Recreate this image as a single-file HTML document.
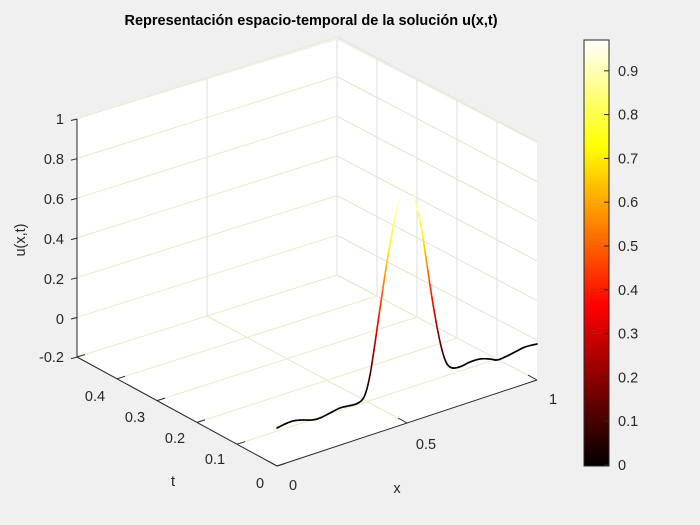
<!DOCTYPE html>
<html><head><meta charset="utf-8"><style>
body{margin:0;background:#f0f0f0;}
svg{display:block;font-family:"Liberation Sans",sans-serif;}
</style></head><body>
<svg id="s" width="700" height="525" viewBox="0 0 700 525">
<defs><linearGradient id="hot" x1="0" y1="1" x2="0" y2="0">
<stop offset="0" stop-color="#000"/><stop offset="0.375" stop-color="#f00"/><stop offset="0.75" stop-color="#ff0"/><stop offset="1" stop-color="#fff"/>
</linearGradient></defs>
<rect width="700" height="525" fill="#f0f0f0"/>
<polygon points="77,119 337,40 337,275 77,357" fill="#fff"/>
<polygon points="337,40 537,143 537,380 337,275" fill="#fff"/>
<polygon points="77,357 337,275 537,380 277,466" fill="#fff"/>
<g id="grid" stroke="#dedede" stroke-width="1" fill="none"></g>
<g id="axes" stroke="#262626" stroke-width="1" fill="none">
<line x1="77" y1="119" x2="77" y2="357"/>
<line x1="77" y1="357" x2="277" y2="466"/>
<line x1="277" y1="466" x2="537" y2="380"/>
</g>
<g id="curve" stroke-width="1.6" fill="none" stroke-linecap="round"></g>
<g font-size="14.5" fill="#262626">
<g text-anchor="end">
<text x="64" y="124">1</text><text x="64" y="164">0.8</text><text x="64" y="204">0.6</text><text x="64" y="244">0.4</text><text x="64" y="284">0.2</text><text x="64" y="324">0</text><text x="64" y="362">-0.2</text>
</g>
<text x="95" y="401" text-anchor="middle">0.4</text><text x="135" y="422" text-anchor="middle">0.3</text><text x="175" y="443" text-anchor="middle">0.2</text><text x="215" y="464" text-anchor="middle">0.1</text><text x="260" y="488" text-anchor="middle">0</text>
<text x="293" y="490" text-anchor="middle">0</text><text x="426" y="449" text-anchor="middle">0.5</text><text x="553" y="404" text-anchor="middle">1</text>
<text x="173" y="486" text-anchor="middle">t</text><text x="397" y="493" text-anchor="middle">x</text>
<text transform="translate(25,240) rotate(-90)" text-anchor="middle">u(x,t)</text>
</g>
<text x="311" y="25" text-anchor="middle" font-size="14.5" font-weight="bold" fill="#000">Representación espacio-temporal de la solución u(x,t)</text>
<rect x="584" y="40" width="25" height="426" fill="url(#hot)" stroke="#262626" stroke-width="1"/>
<g id="cb" font-size="14.5" fill="#262626"></g>
</svg>
<script>
var NS="http://www.w3.org/2000/svg";
function el(p,t,a){var e=document.createElementNS(NS,t);for(var k in a)e.setAttribute(k,a[k]);p.appendChild(e);return e;}
var g=document.getElementById('grid');
function L(a,b,c,d,col){el(g,'line',{x1:a,y1:b,x2:c,y2:d,stroke:col||'#e4e4d8'});}
for(var i=0;i<7;i++){var dz=i*39.7;
 L(77,357-dz,337,275-dz,'#ececc8');L(337,275-dz,537,380-dz,'#e4e4d0');}
L(207,316,207,79,'#dcdce6');L(207,316,407,423,'#e8e8c8');
for(var j=1;j<5;j++){var f=j/5;var ax=77+200*f,ay=357+109*f;var dx=337+200*f,dy=275+105*f;
 L(dx,dy,dx,dy-237,'#dcdce6');L(ax,ay,dx,dy,'#ececc8');}
L(337,40,337,275,'#dcdce6');
var ax=document.getElementById('axes');
for(var i=0;i<7;i++){var y=119+i*39.7;el(ax,'line',{x1:77,y1:y,x2:71,y2:y+1.5});}
for(var j=0;j<6;j++){var f=j/5;var x=77+200*f,y=357+109*f;el(ax,'line',{x1:x,y1:y,x2:x+8,y2:y-2.5});}
for(var j=0;j<3;j++){var x=277+130*j,y=466-43*j;el(ax,'line',{x1:x,y1:y,x2:x-9,y2:y-5});}
var cb=document.getElementById('cb');
for(var v=0;v<=9;v++){var y=465-438*v/10;el(cb,'line',{x1:604,y1:y,x2:609,y2:y,stroke:'#262626'});
 var t=el(cb,'text',{x:618,y:y+5});t.textContent=v?('0.'+v):'0';}
var segs=[[[277,428],[285,424],[293,421],[302,420],[312,420],[320,418],[330,413],[340,408],[348,406],[356,404],[362,400],[366,392],[370,375],[374,350],[378,322],[382,295],[386,268],[390,244],[394,222],[398,205],[401,196],[403,193]],
[[413,193],[414,196],[418,212],[422,232],[426,258],[430,285],[434,310],[438,332],[442,350],[446,362],[450,367],[455,368],[462,366],[470,362],[480,359],[490,359],[497,360],[505,357],[515,352],[525,347],[537,344]]];
function hot(v){v=Math.max(0,Math.min(1,v/0.97));var r=Math.min(1,v/0.375),gg=Math.max(0,Math.min(1,(v-0.375)/0.375)),b=Math.max(0,(v-0.75)/0.25);
 return 'rgb('+Math.round(r*255)+','+Math.round(gg*255)+','+Math.round(b*255)+')';}
var cg=document.getElementById('curve');
function cr(p0,p1,p2,p3,t){var t2=t*t,t3=t2*t;return [0,1].map(function(i){return 0.5*((2*p1[i])+(-p0[i]+p2[i])*t+(2*p0[i]-5*p1[i]+4*p2[i]-p3[i])*t2+(-p0[i]+3*p1[i]-3*p2[i]+p3[i])*t3);});}
segs.forEach(function(P){
 for(var k=0;k<P.length-1;k++){var p0=P[Math.max(0,k-1)],p1=P[k],p2=P[k+1],p3=P[Math.min(P.length-1,k+2)];
  var n=6,prev=p1;for(var m=1;m<=n;m++){var c=cr(p0,p1,p2,p3,m/n);
  var xm=(prev[0]+c[0])/2,ym=(prev[1]+c[1])/2;var base=426-(xm-277)*86/260;var z=(base-ym)/198;
  el(cg,'line',{x1:prev[0],y1:prev[1],x2:c[0],y2:c[1],stroke:hot(z)});prev=c;}}
});
</script>
</body></html>
